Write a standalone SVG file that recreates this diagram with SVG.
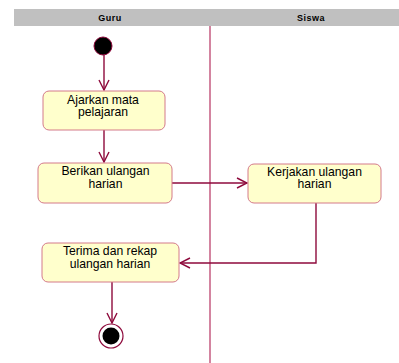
<svg xmlns="http://www.w3.org/2000/svg" width="399" height="363" viewBox="0 0 399 363">
  <defs>
    <style>
      .hdr { font-family: "Liberation Sans", Arial, sans-serif; font-size: 9px; font-weight: bold; fill: #000; text-anchor: middle; letter-spacing: 0.5px; }
      .lbl { font-family: "Liberation Sans", Arial, sans-serif; font-size: 12.2px; fill: #000; text-anchor: middle; }
      .act { fill: #ffffcc; stroke: #d47a8a; stroke-width: 1; }
      .flow { fill: none; stroke: #8e0a3c; stroke-width: 1.4; }
      .lane { stroke: #c05078; stroke-width: 1.4; }
    </style>
    <marker id="open" viewBox="0 0 12 12" refX="11" refY="6" markerWidth="12" markerHeight="12" markerUnits="userSpaceOnUse" orient="auto">
      <path d="M1,1 L11,6 L1,11" fill="none" stroke="#8e0a3c" stroke-width="1.4"/>
    </marker>
  </defs>

  <rect width="399" height="363" fill="#fff"/>

  <!-- swimlane headers -->
  <g id="lanes">
    <rect x="14" y="9" width="385" height="17" fill="#c0c0c0"/>
    <text class="hdr" x="110" y="21">Guru</text>
    <text class="hdr" x="311" y="21">Siswa</text>
    <line class="lane" x1="210" y1="26" x2="210" y2="363"/>
  </g>

  <!-- control flows -->
  <g id="connectors">
    <line class="flow" x1="104" y1="55" x2="104" y2="90" marker-end="url(#open)"/>
    <line class="flow" x1="104" y1="130" x2="104" y2="162" marker-end="url(#open)"/>
    <line class="flow" x1="172" y1="183" x2="247" y2="183" marker-end="url(#open)"/>
    <polyline class="flow" points="316,203 316,263 180,263" marker-end="url(#open)"/>
    <line class="flow" x1="112" y1="282" x2="112" y2="323" marker-end="url(#open)"/>
  </g>

  <g id="start">
    <circle cx="103" cy="46" r="9" fill="#000" stroke="#8e0a3c" stroke-width="1"/>
  </g>

  <g id="ajarkan">
    <rect class="act" x="43" y="91" width="122" height="39" rx="6"/>
    <text class="lbl" x="103" y="103.5">Ajarkan mata</text>
    <text class="lbl" x="103" y="116">pelajaran</text>
  </g>

  <g id="berikan">
    <rect class="act" x="38" y="163" width="134" height="40" rx="6"/>
    <text class="lbl" x="105.5" y="175">Berikan ulangan</text>
    <text class="lbl" x="105.5" y="187.5">harian</text>
  </g>

  <g id="kerjakan">
    <rect class="act" x="248" y="164" width="133" height="39" rx="6"/>
    <text class="lbl" x="314.5" y="175.5">Kerjakan ulangan</text>
    <text class="lbl" x="314.5" y="188">harian</text>
  </g>

  <g id="terima">
    <rect class="act" x="42" y="243" width="137" height="39" rx="6"/>
    <text class="lbl" x="110" y="255">Terima dan rekap</text>
    <text class="lbl" x="110" y="267.5">ulangan harian</text>
  </g>

  <g id="end">
    <circle cx="111" cy="336" r="12" fill="#fff" stroke="#8e0a3c" stroke-width="1.2"/>
    <circle cx="111" cy="336" r="8.5" fill="#000"/>
  </g>
</svg>
